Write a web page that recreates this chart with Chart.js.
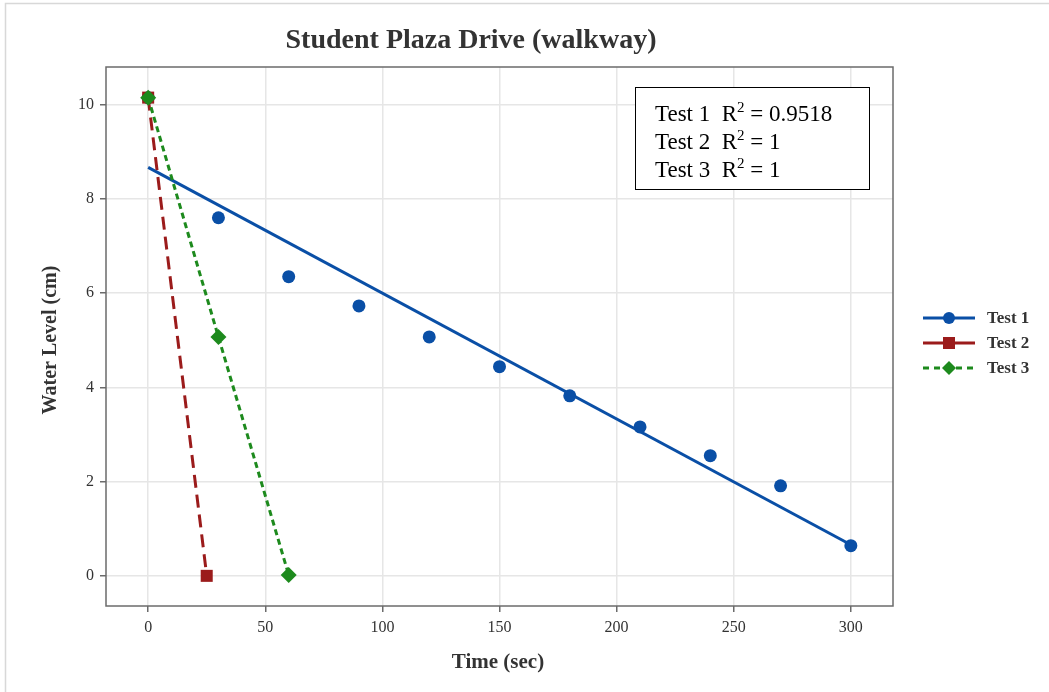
<!DOCTYPE html>
<html>
<head>
<meta charset="utf-8">
<script src="https://cdn.jsdelivr.net/npm/chart.js@4"></script>
<style>
html,body{margin:0;padding:0;background:#fff;}
#wrap{width:1049px;height:692px;position:relative;}
</style>
</head>
<body>
<div id="wrap"><canvas id="c" width="1049" height="692"></canvas></div>
<script>
// ---- data ----
const xTicks = [0, 50, 100, 150, 200, 250, 300];
const yTicks = [0, 2, 4, 6, 8, 10];

const test1Time  = [0, 30, 60, 90, 120, 150, 180, 210, 240, 270, 300];
const test1Level = [10.15, 7.6, 6.35, 5.73, 5.07, 4.44, 3.82, 3.16, 2.55, 1.91, 0.64];

const trend1Time  = [0, 300];
const trend1Level = [8.67, 0.66];

const test2Time  = [0, 25];
const test2Level = [10.15, 0];

const test3Time  = [0, 30, 60];
const test3Level = [10.15, 5.07, 0.02];

const seriesNames = ['Test 1', 'Test 2', 'Test 3'];
const r2Values = ['0.9518', '1', '1'];

const titleText = 'Student Plaza Drive (walkway)';
const xTitle = 'Time (sec)';
const yTitle = 'Water Level (cm)';

// ---- styles ----
const BLUE = '#0a4fa6', RED = '#9b1b1b', GREEN = '#1d8a1d';
const SERIF = '"Liberation Serif", "Times New Roman", serif';
const TXT = '#333333';

const pts = (xs, ys) => xs.map((x, i) => ({x: x, y: ys[i]}));

const decor = {
  id: 'decor',
  beforeDraw(chart) {
    const ctx = chart.ctx;
    ctx.save();
    ctx.fillStyle = '#fff';
    ctx.fillRect(0, 0, chart.width, chart.height);
    ctx.strokeStyle = '#d8d8d8';
    ctx.lineWidth = 1.5;
    ctx.beginPath();
    ctx.moveTo(5.5, 692); ctx.lineTo(5.5, 3.5); ctx.lineTo(1049, 3.5);
    ctx.stroke();
    ctx.restore();
  },
  afterDatasetsDraw(chart) {
    const ctx = chart.ctx, a = chart.chartArea;
    ctx.save();
    // plot frame
    ctx.strokeStyle = '#6b6b6b';
    ctx.lineWidth = 1.5;
    ctx.strokeRect(a.left, a.top, a.right - a.left, a.bottom - a.top);

    // title
    ctx.fillStyle = TXT;
    ctx.font = 'bold 28px ' + SERIF;
    ctx.textAlign = 'center';
    ctx.textBaseline = 'middle';
    ctx.fillText(titleText, 471, 41);

    // axis titles
    ctx.font = 'bold 21px ' + SERIF;
    ctx.fillText(xTitle, 498, 663);
    ctx.save();
    ctx.translate(51, 340);
    ctx.rotate(-Math.PI / 2);
    ctx.font = 'bold 20px ' + SERIF;
    ctx.fillText(yTitle, 0, 0);
    ctx.restore();

    // R^2 box
    ctx.fillStyle = '#fff';
    ctx.fillRect(635.5, 87.5, 234, 102);
    ctx.strokeStyle = '#000';
    ctx.lineWidth = 1;
    ctx.strokeRect(635.5, 87.5, 234, 102);
    ctx.fillStyle = '#000';
    ctx.textAlign = 'left';
    ctx.textBaseline = 'alphabetic';
    seriesNames.forEach((name, i) => {
      const y = 121 + i * 28;
      let x = 655;
      ctx.font = '23px ' + SERIF;
      const head = name + '  R';
      ctx.fillText(head, x, y);
      x += ctx.measureText(head).width;
      ctx.font = '15px ' + SERIF;
      ctx.fillText('2', x, y - 9);
      x += ctx.measureText('2').width;
      ctx.font = '23px ' + SERIF;
      ctx.fillText(' = ' + r2Values[i], x, y);
    });

    // legend
    seriesNames.forEach((name, i) => {
      const d = chart.data.datasets.find(q => q.label === name);
      const y = 318 + i * 25;
      ctx.strokeStyle = d.borderColor;
      ctx.lineWidth = 3;
      ctx.setLineDash(i === 2 ? [6, 5] : []);
      ctx.beginPath();
      ctx.moveTo(923, y); ctx.lineTo(975, y);
      ctx.stroke();
      ctx.setLineDash([]);
      ctx.fillStyle = d.pointBackgroundColor;
      ctx.beginPath();
      if (i === 0) { ctx.arc(949, y, 6, 0, Math.PI * 2); }
      else if (i === 1) { ctx.rect(943, y - 6, 12, 12); }
      else { ctx.moveTo(949, y - 7); ctx.lineTo(956, y); ctx.lineTo(949, y + 7); ctx.lineTo(942, y); ctx.closePath(); }
      ctx.fill();
      ctx.fillStyle = TXT;
      ctx.font = 'bold 17px ' + SERIF;
      ctx.textBaseline = 'middle';
      ctx.fillText(name, 987, y + 1);
    });
    ctx.restore();
  }
};

new Chart(document.getElementById('c'), {
  type: 'scatter',
  data: {
    datasets: [
      {
        label: 'Test 3', data: pts(test3Time, test3Level), showLine: true, order: 0,
        borderColor: GREEN, borderWidth: 3, borderDash: [6, 4],
        pointStyle: 'rectRot', pointRadius: 8, pointBackgroundColor: GREEN, pointBorderWidth: 0
      },
      {
        label: 'Test 2', data: pts(test2Time, test2Level), showLine: true, order: 1,
        borderColor: RED, borderWidth: 3, borderDash: [13, 7],
        pointStyle: 'rect', pointRadius: 8.5, pointBackgroundColor: RED, pointBorderWidth: 0
      },
      {
        label: 'Test 1 fit', data: pts(trend1Time, trend1Level), showLine: true, order: 2,
        borderColor: BLUE, borderWidth: 3, pointRadius: 0
      },
      {
        label: 'Test 1', data: pts(test1Time, test1Level), showLine: false, order: 3,
        borderColor: BLUE, pointStyle: 'circle', pointRadius: 6.5,
        pointBackgroundColor: BLUE, pointBorderWidth: 0
      }
    ]
  },
  options: {
    responsive: false,
    animation: false,
    layout: { padding: { left: 0, top: 67, right: 156, bottom: 0 } },
    plugins: { legend: { display: false }, title: { display: false }, tooltip: { enabled: false } },
    scales: {
      x: {
        type: 'linear', min: -18, max: 318,
        afterFit: s => { s.height = 86; },
        afterBuildTicks: s => { s.ticks = xTicks.map(v => ({value: v})); },
        grid: { color: '#e6e6e6', lineWidth: 1.5, tickColor: '#6b6b6b', tickLength: 6, drawTicks: true },
        border: { display: false },
        ticks: { color: TXT, font: { family: SERIF, size: 16 }, padding: 6, maxRotation: 0 }
      },
      y: {
        type: 'linear', min: -0.64, max: 10.8,
        afterFit: s => { s.width = 106; },
        afterBuildTicks: s => { s.ticks = yTicks.map(v => ({value: v})); },
        grid: { color: '#e6e6e6', lineWidth: 1.5, tickColor: '#6b6b6b', tickLength: 6, drawTicks: true },
        border: { display: false },
        ticks: { color: TXT, font: { family: SERIF, size: 16 }, padding: 6 }
      }
    }
  },
  plugins: [decor]
});
</script>
</body>
</html>
